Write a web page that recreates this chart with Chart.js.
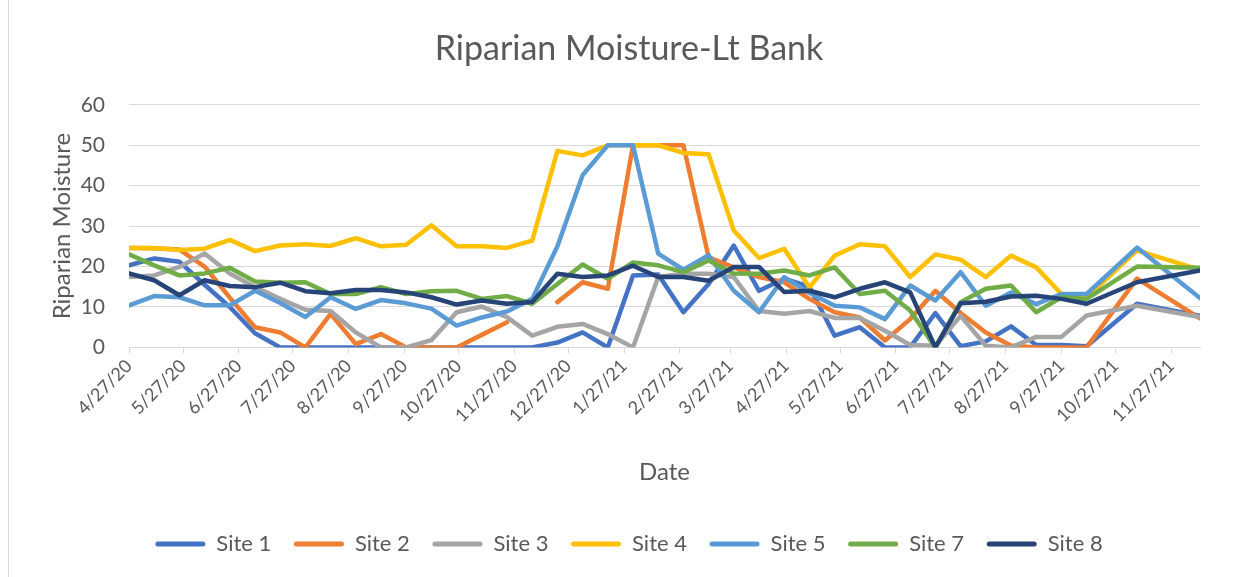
<!DOCTYPE html>
<html>
<head>
<meta charset="utf-8">
<script src="https://cdn.jsdelivr.net/npm/chart.js@4/dist/chart.umd.min.js"></script>
<style>
  body { margin: 0; background: #fff; }
  #wrap { position: relative; width: 1246px; height: 577px; }
  #edge { position: absolute; left: 8px; top: 0; width: 1px; height: 577px; background: #d9d9d9; }
</style>
</head>
<body>
<div id="wrap">
  <canvas id="moistureChart" width="1246" height="577"></canvas>
  <div id="edge"></div>
</div>
<script>
document.addEventListener('DOMContentLoaded', () => {

  // sampling dates (m/d/yy)
  const dates = [
    '4/27/20','5/11/20','5/25/20','6/8/20','6/22/20','7/6/20','7/20/20','8/3/20','8/17/20','8/31/20',
    '9/14/20','9/28/20','10/12/20','10/26/20','11/9/20','11/23/20','12/7/20','12/21/20','1/4/21','1/18/21',
    '2/1/21','2/15/21','3/1/21','3/15/21','3/29/21','4/12/21','4/26/21','5/10/21','5/24/21','6/7/21',
    '6/21/21','7/5/21','7/19/21','8/2/21','8/16/21','8/30/21','9/13/21','9/27/21','10/11/21','11/8/21',
    '12/13/21'
  ];

  const tickLabels = [
    '4/27/20','5/27/20','6/27/20','7/27/20','8/27/20','9/27/20','10/27/20','11/27/20','12/27/20',
    '1/27/21','2/27/21','3/27/21','4/27/21','5/27/21','6/27/21','7/27/21','8/27/21','9/27/21',
    '10/27/21','11/27/21'
  ];

  const site1 = [20.3,22,21.2,15.5,10,3.5,0,0,0,0,0,0,0,0,0,0,0,1.2,3.7,0,17.8,18,8.7,15.7,25.2,14,17,15,2.9,5,0,0,8.5,0.3,1.5,5.2,0.6,0.6,0.3,10.8,7.8];
  const site2 = [24.6,24.5,24.2,20,12.3,5,3.7,0,8.3,0.8,3.3,0,0,0,3.1,6.2,null,11.2,16.1,14.5,50,50,50,22.3,19.8,17.4,16.1,12,8.7,7.4,1.7,7,14,8.5,3.7,0.5,0,0,0,17,7.2];
  const site3 = [17.4,17.8,19.9,23.2,18.3,14.9,12,9.3,9,3.7,0,0,1.8,8.7,10.1,7.5,2.9,5.1,5.8,3.3,0,17.4,18.2,18.2,17.4,9,8.3,9,7.3,7.3,4.1,0.6,0.4,7.8,0.4,0,2.6,2.6,7.9,10.3,7.5];
  const site4 = [24.6,24.6,24.1,24.4,26.6,23.8,25.2,25.5,25.1,27,25,25.4,30.2,25,25,24.6,26.4,48.6,47.5,50,50,50,48.1,47.8,28.9,22.1,24.4,14.8,22.7,25.5,25,17.4,23,21.7,17.4,22.7,19.8,13.2,12.4,24,19.2];
  const site5 = [10.4,12.7,12.4,10.4,10.4,14,11,7.5,12.4,9.5,11.7,10.9,9.6,5.4,7.4,8.9,12,25,42.6,50,50,23.2,19.2,22.8,14,8.7,17.4,13.5,10.3,9.9,7,15.3,11.6,18.6,10.3,13.6,10.7,13.2,13.2,24.7,12.2];
  const site7 = [23,20.3,17.8,18.3,19.7,16.3,16,16.1,13.2,13.2,14.9,13.2,13.9,14,12,12.7,10.8,15.7,20.5,17,21,20.3,18.6,21.5,18.3,18.2,19,17.8,19.8,13.2,14,9.1,0,11.2,14.5,15.3,8.7,12.4,12,20,19.7];
  const site8 = [18.3,16.6,12.9,16.6,15.2,14.9,16,13.9,13.4,14.2,14.2,13.6,12.4,10.6,11.6,10.8,11.2,18.2,17.4,17.8,20.2,17.4,17.4,16.5,19.9,19.9,13.7,14,12.4,14.5,16.1,13.6,0,10.9,11.3,12.6,12.8,12,10.8,16.1,19];

  const seriesNames = ['Site 1','Site 2','Site 3','Site 4','Site 5','Site 7','Site 8'];
  const seriesData = [site1, site2, site3, site4, site5, site7, site8];
  const colors = ['#4472C4','#ED7D31','#A5A5A5','#FFC000','#5B9BD5','#70AD47','#264478'];

  const TEXT = '#595959';
  const GRID = '#d9d9d9';
  const FONT = 'Lato, "Open Sans", sans-serif';

  function dayOf(s){
    const [m, d, y] = s.split('/').map(Number);
    return (Date.UTC(2000 + y, m - 1, d) - Date.UTC(2020, 3, 27)) / 86400000;
  }

  const xs = dates.map(dayOf);
  const tickValues = tickLabels.map(dayOf);
  const labelFor = {};
  tickLabels.forEach((t, i) => { labelFor[tickValues[i]] = t; });

  const datasets = seriesNames.map((name, i) => ({
    label: name,
    data: seriesData[i].map((v, j) => ({ x: xs[j], y: v })),
    borderColor: colors[i],
    backgroundColor: colors[i],
    borderWidth: 4.5,
    pointRadius: 0,
    tension: 0,
    borderJoinStyle: 'round',
    borderCapStyle: 'round',
    order: seriesNames.length - i
  }));

  const ctx = document.getElementById('moistureChart').getContext('2d');

  new Chart(ctx, {
    type: 'line',
    data: { datasets },
    options: {
      responsive: false,
      animation: false,
      devicePixelRatio: 1,
      layout: { padding: { left: 58, right: 46, top: 0, bottom: 12 } },
      plugins: {
        title: {
          display: true,
          text: 'Riparian Moisture-Lt Bank',
          color: TEXT,
          font: { family: FONT, size: 34, weight: 'normal' },
          padding: { top: 29, bottom: 35 }
        },
        legend: {
          position: 'bottom',
          labels: {
            color: TEXT,
            font: { family: FONT, size: 22 },
            boxWidth: 50,
            boxHeight: 5,
            padding: 22.6,
            sort: (a, b) => a.datasetIndex - b.datasetIndex,
            generateLabels: (chart) => chart.data.datasets.map((ds, i) => ({
              text: ds.label,
              fillStyle: ds.borderColor,
              strokeStyle: ds.borderColor,
              lineWidth: 0,
              borderRadius: 2.5,
              fontColor: TEXT,
              hidden: false,
              datasetIndex: i
            })),
            useBorderRadius: true
          }
        },
        tooltip: { enabled: false }
      },
      scales: {
        x: {
          type: 'linear',
          min: 0,
          max: xs[xs.length - 1],
          afterBuildTicks: (scale) => { scale.ticks = tickValues.map(v => ({ value: v })); },
          afterFit: (scale) => { scale.height = 163; },
          ticks: {
            autoSkip: false,
            maxRotation: 45,
            minRotation: 45,
            padding: 2,
            color: TEXT,
            font: { family: FONT, size: 18 },
            callback: (v) => labelFor[v] || ''
          },
          grid: { drawOnChartArea: false, drawTicks: true, tickLength: 6, color: GRID },
          border: { display: true, color: GRID, width: 1 },
          title: {
            display: true,
            text: 'Date',
            color: TEXT,
            font: { family: FONT, size: 24 },
            padding: 24
          }
        },
        y: {
          min: 0,
          max: 60,
          afterFit: (scale) => { scale.width = 71; },
          ticks: {
            stepSize: 10,
            padding: 24,
            color: TEXT,
            font: { family: FONT, size: 21 }
          },
          grid: { color: GRID, drawTicks: false, lineWidth: 1 },
          border: { display: false },
          title: {
            display: true,
            text: 'Riparian Moisture',
            color: TEXT,
            font: { family: FONT, size: 24 },
            padding: -10.4
          }
        }
      }
    }
  });

});
</script>
</body>
</html>
